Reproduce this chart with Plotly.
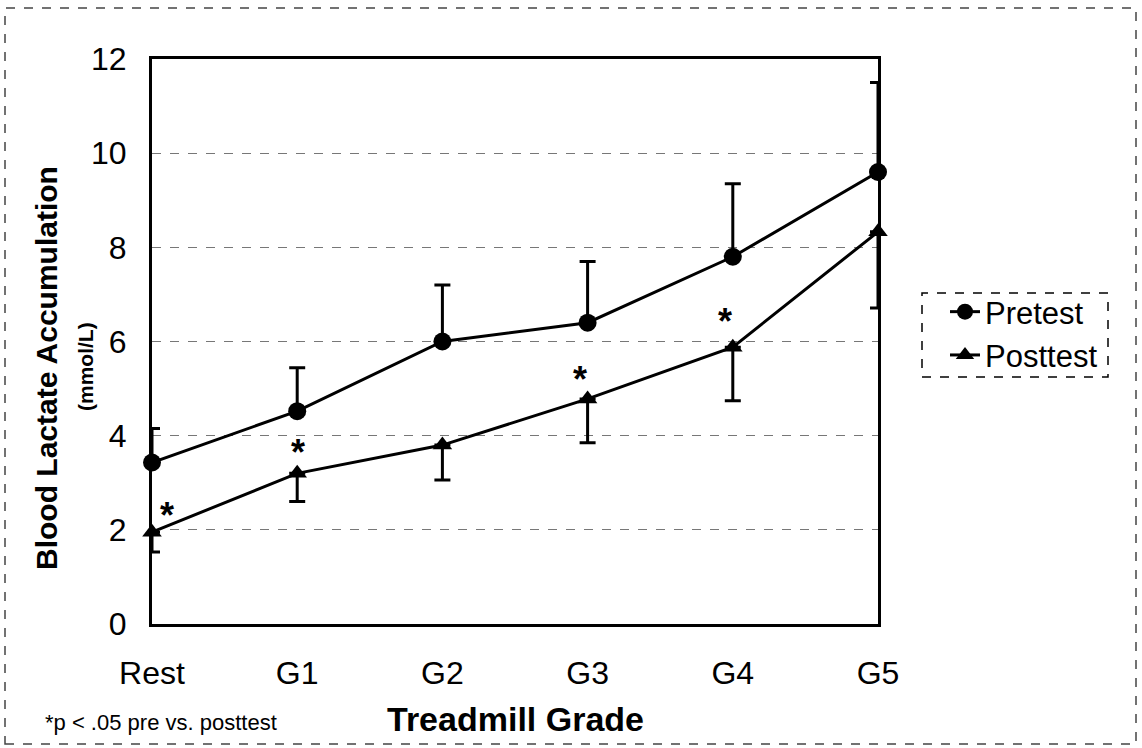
import plotly.graph_objects as go

# ---- data ----
grades = ["Rest", "G1", "G2", "G3", "G4", "G5"]
pretest = [3.43, 4.52, 6.0, 6.4, 7.8, 9.6]
pretest_err_up = [0.72, 0.92, 1.2, 1.3, 1.55, 1.9]
posttest = [1.95, 3.2, 3.8, 4.78, 5.88, 8.33]
posttest_err_down = [0.42, 0.6, 0.74, 0.93, 1.14, 1.62]
sig_grades = ["Rest", "G1", "G3", "G4"]
sig_y = [2.44, 3.78, 5.33, 6.56]
sig_xshift = [15, 1, -8, -8]
y_ticks = [0, 2, 4, 6, 8, 10, 12]

FONT = "Liberation Sans, Arial, sans-serif"

fig = go.Figure()
fig.add_trace(go.Scatter(
    x=grades, y=pretest, name="Pretest", mode="lines+markers",
    line=dict(color="black", width=3),
    marker=dict(symbol="circle", size=18, color="black"),
    error_y=dict(type="data", symmetric=False, array=pretest_err_up,
                 arrayminus=[0] * len(pretest), color="black",
                 thickness=3, width=8),
    cliponaxis=False,
))
fig.add_trace(go.Scatter(
    x=grades, y=posttest, name="Posttest", mode="lines+markers",
    line=dict(color="black", width=3),
    marker=dict(symbol="triangle-up", size=17, color="black"),
    error_y=dict(type="data", symmetric=False, array=[0] * len(posttest),
                 arrayminus=posttest_err_down, color="black",
                 thickness=3, width=8),
    cliponaxis=False,
))

annotations = []
for g, yv, xs in zip(sig_grades, sig_y, sig_xshift):
    annotations.append(dict(x=g, y=yv, xref="x", yref="y", text="<b>*</b>",
                            showarrow=False, xshift=xs, yshift=-6,
                            font=dict(family=FONT, size=36, color="black")))

L, R, T, B = 152, 878, 59, 624
W, H = 1142, 748
def px(xp):
    return (xp - L) / (R - L)
def py(yp):
    return (B - yp) / (B - T)

annotations += [
    dict(x=px(46), y=py(368), xref="paper", yref="paper", textangle=-90,
         text="<b>Blood Lactate Accumulation</b>", showarrow=False,
         xanchor="center", yanchor="middle",
         font=dict(family=FONT, size=30, color="black")),
    dict(x=px(85), y=py(367), xref="paper", yref="paper", textangle=-90,
         text="<b>(mmol/L)</b>", showarrow=False,
         xanchor="center", yanchor="middle",
         font=dict(family=FONT, size=21, color="black")),
    dict(x=px(515), y=py(719), xref="paper", yref="paper",
         text="<b>Treadmill Grade</b>", showarrow=False,
         xanchor="center", yanchor="middle",
         font=dict(family=FONT, size=34, color="black")),
    dict(x=px(43), y=py(722), xref="paper", yref="paper",
         text="*p < .05 pre vs. posttest", showarrow=False,
         xanchor="left", yanchor="middle",
         font=dict(family=FONT, size=22, color="black")),
]

shapes = [
    # legend dashed box
    dict(type="rect", xref="paper", yref="paper",
         x0=px(922), x1=px(1108), y0=py(377), y1=py(293),
         line=dict(color="black", width=1.5, dash="dash")),
    # outer dashed frame
    dict(type="rect", xref="paper", yref="paper",
         x0=px(5), x1=px(1136), y0=py(744), y1=py(8),
         line=dict(color="#444", width=1.5, dash="dash")),
]

fig.update_layout(
    width=W, height=H,
    margin=dict(l=L, r=W - R, t=T, b=H - B),
    paper_bgcolor="white", plot_bgcolor="white",
    font=dict(family=FONT, color="black"),
    showlegend=True,
    legend=dict(x=px(945), y=py(285), xanchor="left", yanchor="top",
                font=dict(family=FONT, size=31, color="black"),
                bgcolor="rgba(0,0,0,0)", borderwidth=0,
                itemwidth=30, tracegroupgap=0),
    annotations=annotations,
    shapes=shapes,
)
fig.update_xaxes(
    type="category", range=[0, 5], showline=True, linecolor="black",
    linewidth=3, mirror=True, showgrid=False, ticks="",
    tickfont=dict(family=FONT, size=32, color="black"),
    ticklabelstandoff=19, zeroline=False,
)
fig.update_yaxes(
    range=[0, 12], tickvals=y_ticks, showline=True, linecolor="black",
    linewidth=3, mirror=True, showgrid=True, gridcolor="#777",
    gridwidth=1, griddash="dash", ticks="",
    tickfont=dict(family=FONT, size=32, color="black"),
    ticklabelstandoff=16, zeroline=False,
)

fig.write_html("out.html",
               config={"displayModeBar": False},
               post_script="document.body.style.margin='0';")
